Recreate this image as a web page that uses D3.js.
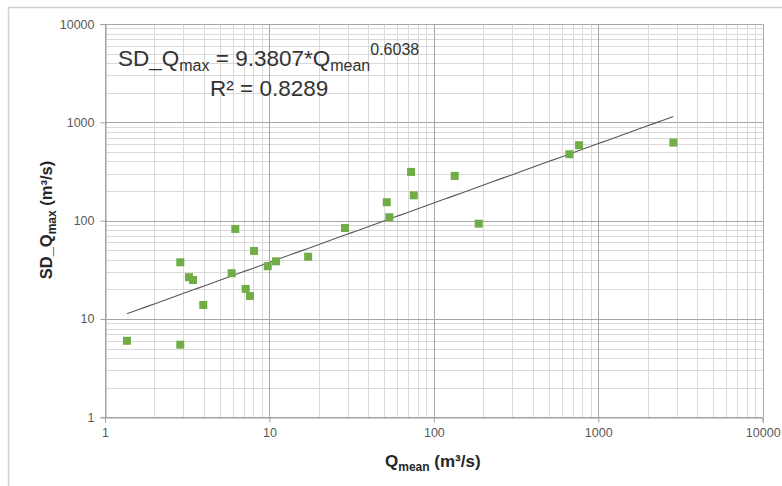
<!DOCTYPE html>
<html>
<head>
<meta charset="utf-8">
<script src="https://cdn.jsdelivr.net/npm/d3@7"></script>
<style>
  body { margin: 0; background: #fff; }
  svg { display: block; }
  text { font-family: "Liberation Sans", Arial, sans-serif; }
</style>
</head>
<body>
<svg id="chart" width="782" height="486"></svg>
<script>
// Mean discharge per station (m³/s)
const qMean = [1.36, 2.87, 2.87, 3.24, 3.43, 3.96, 5.89, 6.2, 8.06, 7.17, 7.62, 9.77, 10.97,
               28.8, 17.2, 51.7, 53.6, 72.7, 75.5, 134, 187.5, 667, 764, 2864];
// Standard deviation of annual maximum discharge (m³/s)
const sdQmax = [6.0, 5.48, 37.7, 26.6, 24.9, 13.9, 29.2, 82.4, 49.2, 20.2, 17.1, 34.4, 38.6,
                84.3, 43.0, 153.8, 108.3, 313, 181, 285, 93.2, 474, 585, 622];
// Power-law fit: SD_Qmax = a * Qmean^b
const fitA = 9.3807;
const fitB = 0.6038;
const fitR2 = 0.8289;
const tickValues = [1, 10, 100, 1000, 10000];

const svg = d3.select("#chart");

// outer chart frame
svg.append("rect")
  .attr("x", 8.5).attr("y", 7.5)
  .attr("width", 800).attr("height", 600)
  .attr("fill", "none").attr("stroke", "#d0d0d0").attr("stroke-width", 1.5);

const x = d3.scaleLog().domain([1, 10000]).range([105, 762.7]);
const y = d3.scaleLog().domain([1, 10000]).range([417.3, 24]);

const isMajor = v => Math.abs(Math.log10(v) - Math.round(Math.log10(v))) < 1e-9;
const gridVals = x.ticks();

// minor gridlines first, decade lines on top
const grid = svg.append("g");
const drawGrid = (major) => {
  gridVals.filter(v => isMajor(v) === major).forEach(v => {
    grid.append("line")
      .attr("x1", Math.round(x(v)) + 0.5).attr("x2", Math.round(x(v)) + 0.5)
      .attr("y1", y(10000)).attr("y2", y(1))
      .attr("stroke", major ? "#a6a6a6" : "#d9d9d9").attr("stroke-width", 1);
    grid.append("line")
      .attr("y1", Math.round(y(v)) + 0.5).attr("y2", Math.round(y(v)) + 0.5)
      .attr("x1", x(1)).attr("x2", x(10000))
      .attr("stroke", major ? "#a6a6a6" : "#d9d9d9").attr("stroke-width", 1);
  });
};
drawGrid(false);
drawGrid(true);

// axes
const xAxis = d3.axisBottom(x).tickValues(tickValues).tickFormat(d3.format("d")).tickSize(5).tickPadding(6);
const yAxis = d3.axisLeft(y).tickValues(tickValues).tickFormat(d3.format("d")).tickSize(5).tickPadding(6);

const gx = svg.append("g").attr("transform", `translate(0,${Math.round(y(1)) + 0.5})`).call(xAxis);
const gy = svg.append("g").attr("transform", `translate(${Math.round(x(1)) + 0.5},0)`).call(yAxis);
[gx, gy].forEach(g => {
  g.select(".domain").attr("stroke", "#a0a0a0");
  g.selectAll(".tick line").attr("stroke", "#a0a0a0");
  g.selectAll(".tick text").attr("fill", "#595959").style("font-size", "12.5px");
});

// fitted power-law trend line
const xmin = d3.min(qMean), xmax = d3.max(qMean);
const trend = d3.range(0, 101).map(i => {
  const q = Math.pow(10, Math.log10(xmin) + i / 100 * (Math.log10(xmax) - Math.log10(xmin)));
  return [q, fitA * Math.pow(q, fitB)];
});
svg.append("path")
  .datum(trend)
  .attr("d", d3.line().x(d => x(d[0])).y(d => y(d[1])))
  .attr("fill", "none").attr("stroke", "#595959").attr("stroke-width", 1.1);

// data markers
const s = 8;
svg.append("g").selectAll("rect")
  .data(qMean.map((q, i) => [q, sdQmax[i]]))
  .join("rect")
  .attr("x", d => x(d[0]) - s / 2)
  .attr("y", d => y(d[1]) - s / 2)
  .attr("width", s).attr("height", s)
  .attr("fill", "#70ad47");

// equation label
const eq = svg.append("text").attr("x", 118).attr("y", 66)
  .attr("fill", "#333").style("font-size", "22.5px");
eq.append("tspan").text("SD_Q");
eq.append("tspan").text("max").style("font-size", "16px").attr("dy", 5);
eq.append("tspan").text(` = ${fitA}*Q`).attr("dy", -5);
eq.append("tspan").text("mean").style("font-size", "16px").attr("dy", 5);
eq.append("tspan").text(fitB.toFixed(4)).style("font-size", "16px").attr("dy", -16);

svg.append("text").attr("x", 210).attr("y", 96)
  .attr("fill", "#333").style("font-size", "22.5px")
  .text(`R² = ${fitR2}`);

// axis titles
const xt = svg.append("text").attr("x", 385).attr("y", 467)
  .attr("fill", "#262626").style("font-size", "17px").style("font-weight", "bold");
xt.append("tspan").text("Q");
xt.append("tspan").text("mean").style("font-size", "12px").attr("dy", 4);
xt.append("tspan").text(" (m³/s)").attr("dy", -4);

const yt = svg.append("text")
  .attr("transform", "translate(52,220) rotate(-90)")
  .attr("text-anchor", "middle")
  .attr("fill", "#262626").style("font-size", "16.5px").style("font-weight", "bold");
yt.append("tspan").text("SD_Q");
yt.append("tspan").text("max").style("font-size", "12px").attr("dy", 4);
yt.append("tspan").text(" (m³/s)").attr("dy", -4);
</script>
</body>
</html>
